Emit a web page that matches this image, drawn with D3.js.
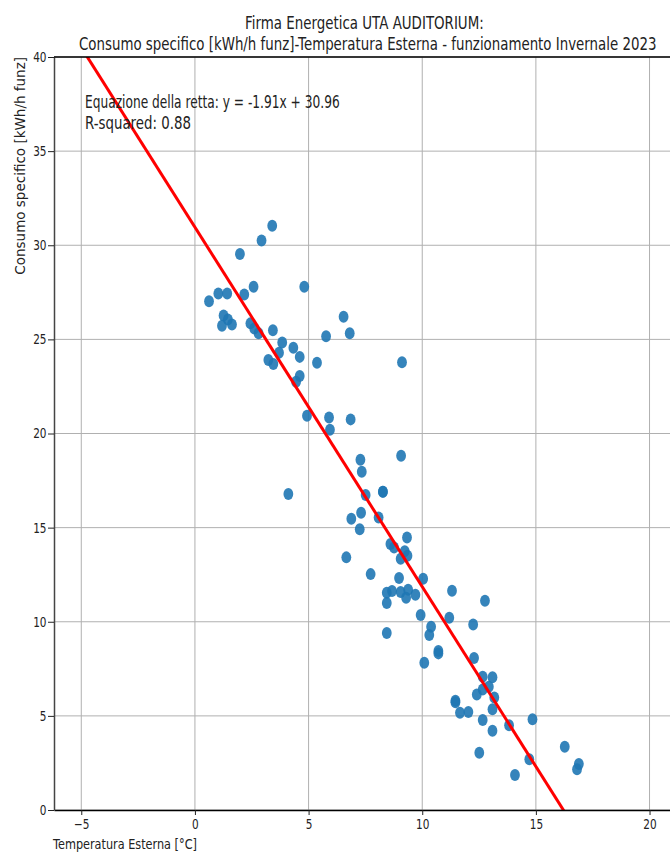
<!DOCTYPE html>
<html>
<head>
<script src="https://d3js.org/d3.v7.min.js"></script>
<style>
  body { margin: 0; background: #fff; }
  text { font-family: "DejaVu Sans", sans-serif; fill: #222; }
</style>
</head>
<body>
<svg width="670" height="852"></svg>
<script>
// outdoor temperature [°C]
const tempEst = [
  3.40, 2.93, 1.98, 4.81, 2.58, 1.03, 1.42, 2.17, 0.62, 1.26,
  1.45, 1.19, 1.63, 2.44, 2.61, 2.80, 3.43, 6.54, 5.77, 6.81,
  3.84, 4.33, 4.61, 3.70, 5.37, 3.23, 3.45, 4.61, 4.45, 4.93,
  5.90, 6.85, 5.94, 9.11, 7.28, 9.07, 7.34, 4.11, 7.51, 8.27,
  7.31, 6.88, 8.08, 7.25, 9.33, 8.60, 8.76, 9.23, 9.35, 9.05,
  6.66, 7.73, 8.98, 10.04, 8.44, 8.67, 9.05, 9.38, 9.29, 9.70,
  8.44, 9.93, 11.31, 12.76, 11.19, 12.24, 10.39, 10.31, 8.44, 10.71,
  10.71, 12.28, 10.09, 12.66, 13.09, 12.93, 12.66, 12.40, 13.17, 11.46,
  11.46, 13.09, 11.66, 12.03, 12.66, 14.85, 13.82, 13.09, 16.27, 12.51,
  14.71, 16.89, 16.81, 14.08, 8.27
];
// specific consumption [kWh/h funz]
const consumo = [
  31.03, 30.25, 29.53, 27.79, 27.79, 27.44, 27.44, 27.39, 27.03, 26.27,
  26.06, 25.72, 25.79, 25.85, 25.58, 25.32, 25.49, 26.20, 25.17, 25.32,
  24.84, 24.55, 24.07, 24.29, 23.76, 23.90, 23.69, 23.05, 22.75, 20.94,
  20.85, 20.75, 20.20, 23.79, 18.60, 18.82, 17.97, 16.78, 16.73, 16.90,
  15.79, 15.47, 15.54, 14.91, 14.48, 14.13, 13.95, 13.75, 13.50, 13.35,
  13.42, 12.53, 12.32, 12.28, 11.54, 11.63, 11.58, 11.70, 11.28, 11.43,
  10.99, 10.36, 11.65, 11.12, 10.21, 9.86, 9.74, 9.29, 9.40, 8.44,
  8.32, 8.07, 7.82, 7.08, 7.05, 6.55, 6.40, 6.14, 5.98, 5.80,
  5.72, 5.35, 5.17, 5.20, 4.78, 4.82, 4.50, 4.21, 3.36, 3.04,
  2.69, 2.44, 2.16, 1.86, 16.90
];
const slope = -1.91;
const intercept = 30.96;
const rSquared = 0.88;

const xTicks = [-5, 0, 5, 10, 15, 20];
const yTicks = [0, 5, 10, 15, 20, 25, 30, 35, 40];

const titleLines = [
  "Firma Energetica UTA AUDITORIUM:",
  "Consumo specifico [kWh/h funz]-Temperatura Esterna - funzionamento Invernale 2023"
];

const svg = d3.select("svg");
const plotL = 54, plotR = 670, plotT = 57, plotB = 810;

const xScale = d3.scaleLinear().domain([-6.2, 20.9]).range([plotL, plotR]);
const yScale = d3.scaleLinear().domain([0, 40]).range([plotB, plotT]);

// narrow text: squeeze horizontally to a given width
function narrowText(x, y, width, size, str) {
  const t = svg.append("text")
    .style("font-size", size + "px")
    .text(str);
  const w = t.node().getComputedTextLength();
  t.attr("transform", `translate(${x},${y}) scale(${width / w},1)`);
  return t;
}

svg.append("clipPath").attr("id", "plotclip")
  .append("rect")
  .attr("x", plotL).attr("y", plotT)
  .attr("width", plotR - plotL).attr("height", plotB - plotT);

// grid
const grid = svg.append("g").attr("class", "grid");
grid.selectAll(".vg").data(xTicks).enter().append("line")
  .attr("x1", d => xScale(d)).attr("x2", d => xScale(d))
  .attr("y1", plotT).attr("y2", plotB)
  .attr("stroke", "#b0b0b0").attr("stroke-width", 1);
grid.selectAll(".hg").data(yTicks).enter().append("line")
  .attr("x1", plotL).attr("x2", plotR)
  .attr("y1", d => yScale(d)).attr("y2", d => yScale(d))
  .attr("stroke", "#b0b0b0").attr("stroke-width", 1);

// points
const pts = tempEst.map((t, i) => ({ t: t, c: consumo[i] }));
svg.append("g")
  .attr("clip-path", "url(#plotclip)")
  .selectAll(".dot")
  .data(pts)
  .enter()
  .append("ellipse")
  .attr("class", "dot")
  .attr("cx", d => xScale(d.t))
  .attr("cy", d => yScale(d.c))
  .attr("rx", 4.9)
  .attr("ry", 6)
  .style("fill", "#1f77b4")
  .style("opacity", 0.9);

// regression line
const xs = xScale.domain();
svg.append("line")
  .attr("clip-path", "url(#plotclip)")
  .attr("x1", xScale(xs[0])).attr("y1", yScale(slope * xs[0] + intercept))
  .attr("x2", xScale(xs[1])).attr("y2", yScale(slope * xs[1] + intercept))
  .attr("stroke", "red").attr("stroke-width", 3);

// axes
const xAxis = svg.append("g")
  .attr("transform", `translate(0,${plotB})`)
  .call(d3.axisBottom(xScale).tickValues(xTicks).tickSize(5).tickSizeOuter(0));
xAxis.select(".domain").attr("stroke", "#000").attr("stroke-width", 1.5);
xAxis.selectAll(".tick line").attr("stroke", "#222");
xAxis.selectAll("text")
  .attr("y", 9)
  .style("font-size", "14px")
  .style("font-family", "DejaVu Sans")
  .attr("fill", "#222")
  .attr("transform", "scale(0.75,1)");

const yAxis = svg.append("g")
  .attr("transform", `translate(${plotL},0)`)
  .call(d3.axisLeft(yScale).tickValues(yTicks).tickSize(6).tickSizeOuter(0));
yAxis.select(".domain").attr("stroke", "#444").attr("stroke-width", 1.5);
yAxis.selectAll(".tick line").attr("stroke", "#222");
yAxis.selectAll("text")
  .attr("x", -10)
  .style("font-size", "14px")
  .style("font-family", "DejaVu Sans")
  .attr("fill", "#222")
  .attr("transform", "scale(0.75,1)");

// top spine
svg.append("line")
  .attr("x1", plotL).attr("x2", plotR)
  .attr("y1", plotT).attr("y2", plotT)
  .attr("stroke", "#000").attr("stroke-width", 1.5);

// titles
narrowText(245, 29, 239, 18.5, titleLines[0]);
narrowText(79, 50, 578, 18.5, titleLines[1]);

// annotation
narrowText(85, 108, 255, 18.5,
  `Equazione della retta: y = ${slope.toFixed(2)}x + ${intercept.toFixed(2)}`);
narrowText(85, 129, 106, 18.5, `R-squared: ${rSquared.toFixed(2)}`);

// axis labels
narrowText(53, 849, 144, 14, "Temperatura Esterna [°C]");
svg.append("text")
  .attr("transform", `translate(25,${plotT}) rotate(-90)`)
  .attr("text-anchor", "end")
  .style("font-size", "13.5px")
  .text("Consumo specifico [kWh/h funz]");
</script>
</body>
</html>
